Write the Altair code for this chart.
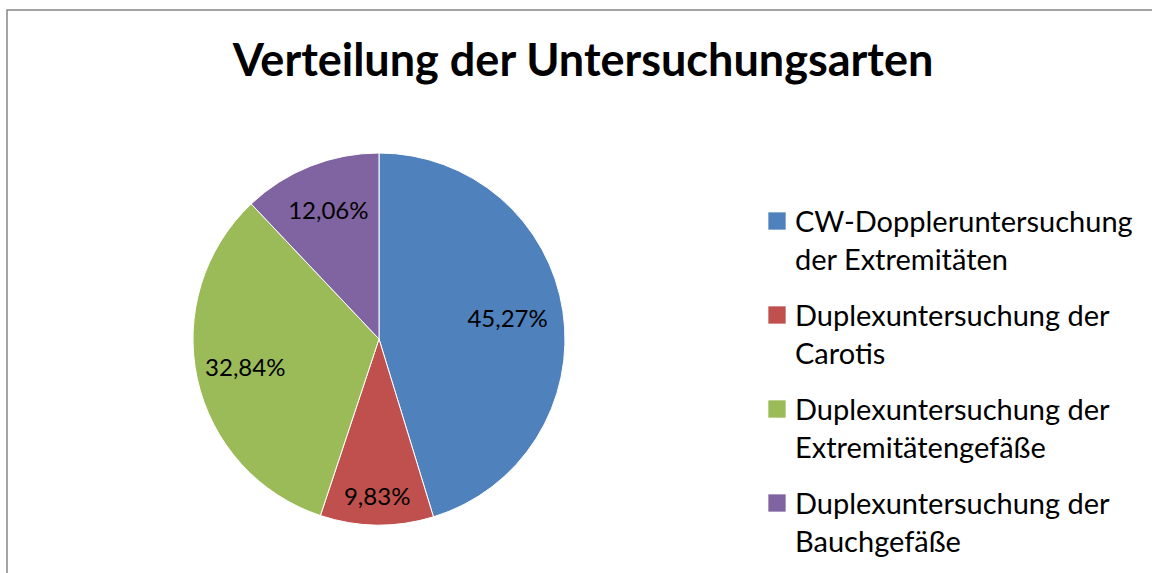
import altair as alt
import pandas as pd

# ---- data ----
categories = [
    "CW-Doppleruntersuchung\nder Extremitäten",
    "Duplexuntersuchung der\nCarotis",
    "Duplexuntersuchung der\nExtremitätengefäße",
    "Duplexuntersuchung der\nBauchgefäße",
]
values = [45.27, 9.83, 32.84, 12.06]
labels = ["45,27%", "9,83%", "32,84%", "12,06%"]
colors = ["#4F81BD", "#C0504D", "#9BBB59", "#8064A2"]
title_text = ["Verteilung der Untersuchungsarten"]

df = pd.DataFrame({"cat": categories, "value": values, "label": labels,
                   "idx": list(range(len(categories)))})
df_title = pd.DataFrame({"t": title_text})
df_frame = pd.DataFrame({"k": [0]})

FONT = "Lato"
CX, CY, R = 379, 339, 186

color = alt.Color("cat:N", scale=alt.Scale(domain=categories, range=colors), legend=None)
order = alt.Order("idx:Q")

frame = alt.Chart(df_frame).mark_rect(fillOpacity=0, stroke="#868686", strokeWidth=1.5).encode(
    x=alt.value(7), x2=alt.value(1400), y=alt.value(10), y2=alt.value(800)
)

title = alt.Chart(df_title).mark_text(
    font=FONT, fontSize=45, fontWeight="bold", align="center", baseline="alphabetic", color="black"
).encode(text="t:N", x=alt.value(583), y=alt.value(76))

pie = alt.Chart(df).mark_arc(outerRadius=R, stroke="white", strokeWidth=1).encode(
    theta=alt.Theta("value:Q", stack=True), color=color, order=order,
    x=alt.value(CX), y=alt.value(CY)
)

pie_labels = alt.Chart(df).transform_window(
    cum="sum(value)", sort=[alt.SortField("idx", order="ascending")]
).transform_calculate(
    mid="datum.cum - datum.value / 2",
    lr="datum.value > 40 ? 130 : (datum.value < 11 ? 159 : 137)"
).mark_text(font=FONT, fontSize=24, align="center", baseline="middle", color="black").encode(
    theta=alt.Theta("mid:Q", stack=None), radius=alt.Radius("lr:Q", scale=None),
    text="label:N", x=alt.value(CX), y=alt.value(CY)
)

ypos = alt.Y("cat:N", scale=alt.Scale(type="point", domain=categories, range=[221, 503], padding=0),
             axis=None)

leg_sq = alt.Chart(df).mark_square(size=300, opacity=1).encode(
    x=alt.value(777), y=ypos, color=color
)

leg_txt = alt.Chart(df).mark_text(
    font=FONT, fontSize=29, align="left", baseline="alphabetic", lineBreak="\n",
    lineHeight=38, dy=11, color="black"
).encode(x=alt.value(795), y=ypos, text="cat:N")

chart = alt.layer(frame, title, pie, pie_labels, leg_sq, leg_txt).properties(
    width=1152, height=573, background="white", padding=0,
    autosize=alt.AutoSizeParams(type="none")
).configure_view(stroke=None)

chart.save("out.html", embed_options={"renderer": "svg", "actions": False})
